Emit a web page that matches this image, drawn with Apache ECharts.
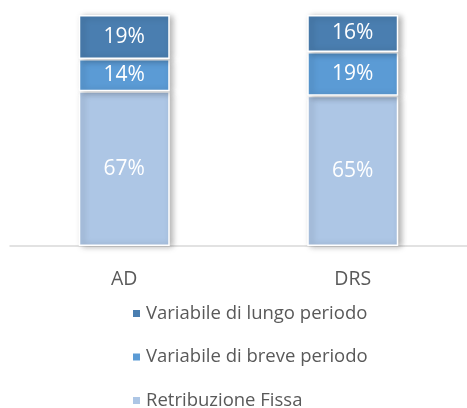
<!DOCTYPE html>
<html><head><meta charset="utf-8">
<script src="https://cdn.jsdelivr.net/npm/echarts@6/dist/echarts.min.js"></script>
<style>html,body{margin:0;padding:0;background:#fff}#c{width:467px;height:408px}</style>
</head><body><div id="c"></div>
<script>
const categories = ['AD', 'DRS'];
const fissa = [67, 65];
const breve = [14, 19];
const lungo = [19, 16];
const seriesNames = ['Retribuzione Fissa', 'Variabile di breve periodo', 'Variabile di lungo periodo'];
const colors = ['#ADC6E5', '#5B9BD5', '#4A7EB0'];

const chart = echarts.init(document.getElementById('c'));
const font = '"Open Sans", "Noto Sans", sans-serif';
function mk(name, data, color) {
  return {
    name, type: 'bar', stack: 's', data, barWidth: 91,
    itemStyle: { color, borderColor: '#fff', borderWidth: 1.5,
      shadowColor: 'rgba(0,0,0,0.3)', shadowBlur: 6, shadowOffsetX: 3, shadowOffsetY: 1 },
    label: { show: true, position: 'inside', color: '#fff', fontSize: 21, fontFamily: font,
      formatter: p => p.value + '%' }
  };
}
chart.setOption({
  animation: false,
  grid: { left: 10, right: -5, top: 15, height: 231 },
  xAxis: { type: 'category', data: categories,
    axisLine: { lineStyle: { color: '#D9D9D9', width: 1.5 } }, axisTick: { show: false },
    axisLabel: { color: '#595959', fontSize: 19.5, fontFamily: font, margin: 23 } },
  yAxis: { type: 'value', min: 0, max: 100, show: false },
  legend: { orient: 'vertical', left: 131, top: 304, height: 160, padding: 0, itemGap: 24.5, itemWidth: 9, itemHeight: 9,
    icon: 'rect',
    data: [seriesNames[2], seriesNames[1], seriesNames[0]],
    textStyle: { color: '#595959', fontSize: 18.5, fontFamily: font } },
  series: [mk(seriesNames[0], fissa, colors[0]), mk(seriesNames[1], breve, colors[1]), mk(seriesNames[2], lungo, colors[2])]
});
</script></body></html>
